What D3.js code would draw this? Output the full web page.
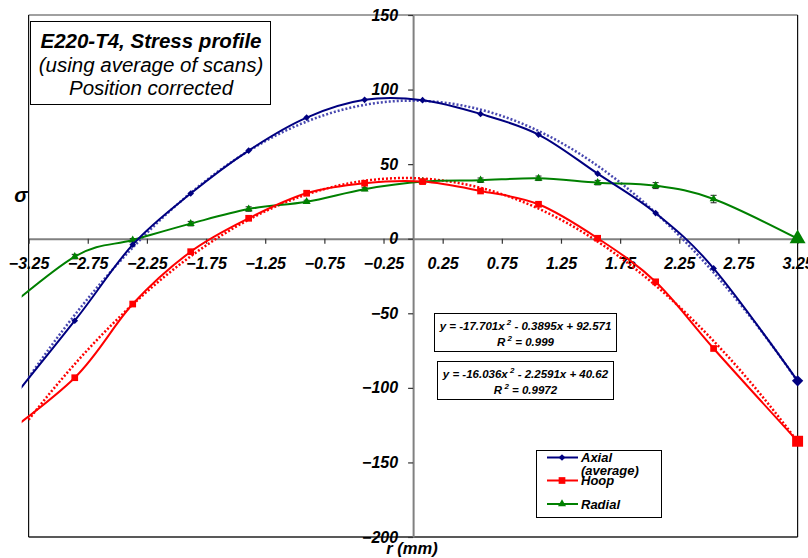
<!DOCTYPE html>
<html>
<head>
<meta charset="utf-8">
<script src="https://cdn.jsdelivr.net/npm/d3@7"></script>
<style>
  body { margin: 0; background: #fff; }
  text { font-family: "Liberation Sans", Arial, sans-serif; }
</style>
</head>
<body>
<div id="chart"></div>
<script>
// Radial position (mm), first point lies left of the visible axis
var positions = [-3.6, -2.86, -2.37, -1.88, -1.39, -0.90, -0.41, 0.08, 0.57, 1.06, 1.56, 2.05, 2.54, 3.25];

// Stress values
var axial  = [-128, -55.0, -4.0, 30.3, 59.1, 81.2, 93.1, 92.9, 83.7, 69.8, 43.6, 17.2, -19.9, -95.3];
var hoop   = [-140, -93.2, -43.8, -8.7, 13.7, 30.5, 37.2, 38.3, 32.0, 23.1, 0.3, -28.9, -73.6, -135.8];
var radial = [-58, -12.0, -0.9, 10.1, 19.9, 24.8, 33.2, 38.3, 39.2, 40.5, 37.6, 35.6, 26.6, 0];
var radialErr = [0, 1.5, 1, 1.5, 1.5, 1, 1, 1, 1.5, 1.5, 1.5, 2, 2.5, 0];

// Polynomial trendlines (a, b, c for a x^2 + b x + c)
var axialFit = [-17.701, -0.3895, 92.571];
var hoopFit  = [-16.036, -2.2591, 40.62];

var xTicks = [-3.25, -2.75, -2.25, -1.75, -1.25, -0.75, -0.25, 0.25, 0.75, 1.25, 1.75, 2.25, 2.75, 3.25];
var yTicks = [-200, -150, -100, -50, 0, 50, 100, 150];

var width = 808, height = 558;

var svg = d3.select("#chart").append("svg")
  .attr("width", width)
  .attr("height", height);

var x = d3.scaleLinear().domain([-3.25, 3.25]).range([28.6, 797.6]);
var y = d3.scaleLinear().domain([-200, 150]).range([537, 15]);

// series are clipped a few pixels left of the frame, as in the original
svg.append("clipPath").attr("id", "plotclip")
  .append("rect").attr("x", 21.7).attr("y", 0).attr("width", width).attr("height", height);

// plot area frame
svg.append("line").attr("x1", x(-3.25)).attr("x2", x(3.25)).attr("y1", y(150)).attr("y2", y(150))
  .attr("stroke", "#808080").attr("stroke-width", 1.5);
svg.append("line").attr("x1", x(-3.25)).attr("x2", x(3.25)).attr("y1", y(-200)).attr("y2", y(-200))
  .attr("stroke", "#222").attr("stroke-width", 1.5);
svg.append("line").attr("x1", x(-3.25)).attr("x2", x(-3.25)).attr("y1", y(150)).attr("y2", y(-200))
  .attr("stroke", "#111").attr("stroke-width", 1.2);
svg.append("line").attr("x1", x(3.25)).attr("x2", x(3.25)).attr("y1", y(150)).attr("y2", y(-200))
  .attr("stroke", "#111").attr("stroke-width", 1.2);

// x axis through zero
var xAxis = svg.append("g")
  .attr("transform", "translate(0," + y(0) + ")")
  .call(d3.axisBottom(x).tickValues(xTicks).tickSizeInner(5).tickSizeOuter(0).tickFormat(d3.format(".2f")));
xAxis.select(".domain").attr("stroke", "#808080").attr("stroke-width", 2);
xAxis.selectAll(".tick line").attr("stroke", "#333").attr("stroke-width", 1.2);
xAxis.selectAll("text")
  .attr("y", 25).attr("dy", "0.35em")
  .style("font-size", "16px").style("font-weight", "bold").style("font-style", "italic").attr("fill", "#000");

// y axis through zero
var yAxis = svg.append("g")
  .attr("transform", "translate(" + x(0) + ",0)")
  .call(d3.axisLeft(y).tickValues(yTicks).tickSizeInner(5).tickSizeOuter(0).tickPadding(10));
yAxis.select(".domain").attr("stroke", "#808080").attr("stroke-width", 2);
yAxis.selectAll(".tick line").attr("stroke", "#333").attr("stroke-width", 1.2);
yAxis.selectAll("text")
  .style("font-size", "16px").style("font-weight", "bold").style("font-style", "italic").attr("fill", "#000");

// axis titles
svg.append("text").attr("x", 21).attr("y", 195).attr("text-anchor", "middle").attr("dy", "0.35em")
  .style("font-size", "20px").style("font-weight", "bold").style("font-style", "italic").text("σ");
svg.append("text").attr("x", 412).attr("y", 553.5).attr("text-anchor", "middle")
  .style("font-size", "16.5px").style("font-weight", "bold").style("font-style", "italic").text("r (mm)");

// trendlines
function fitPoints(c) {
  return d3.range(-3.25, 3.2501, 0.05).map(function(r) {
    return [r, c[0] * r * r + c[1] * r + c[2]];
  });
}
var fitLine = d3.line().x(function(d) { return x(d[0]); }).y(function(d) { return y(d[1]); });

svg.append("path").attr("d", fitLine(fitPoints(axialFit)))
  .attr("fill", "none").attr("stroke", "#4848b0").attr("stroke-width", 2.5).attr("stroke-dasharray", "2,2");
svg.append("path").attr("d", fitLine(fitPoints(hoopFit)))
  .attr("fill", "none").attr("stroke", "#ff0000").attr("stroke-width", 2.5).attr("stroke-dasharray", "2,2");

// smoothed series
var line = d3.line()
  .x(function(d, i) { return x(positions[i]); })
  .y(function(d) { return y(d); })
  .curve(d3.curveCardinal.tension(0));

var series = [
  { name: "radial", values: radial, color: "#008000", shape: "tri" },
  { name: "hoop", values: hoop, color: "#ff0000", shape: "sq" },
  { name: "axial", values: axial, color: "#000080", shape: "dia" }
];

// error bars on radial
var eb = svg.append("g");
radial.forEach(function(v, i) {
  var e = radialErr[i];
  if (!e) return;
  var cx = x(positions[i]);
  eb.append("line").attr("x1", cx).attr("x2", cx).attr("y1", y(v - e)).attr("y2", y(v + e)).attr("stroke", "#222");
  eb.append("line").attr("x1", cx - 3).attr("x2", cx + 3).attr("y1", y(v - e)).attr("y2", y(v - e)).attr("stroke", "#222");
  eb.append("line").attr("x1", cx - 3).attr("x2", cx + 3).attr("y1", y(v + e)).attr("y2", y(v + e)).attr("stroke", "#222");
});

function marker(shape, big) {
  if (shape === "sq") return d3.symbol(d3.symbolSquare, big ? 120 : 45)();
  if (shape === "tri") return d3.symbol(d3.symbolTriangle, big ? 110 : 28)();
  return d3.symbol(d3.symbolSquare, big ? 64 : 22)();
}

series.forEach(function(s) {
  svg.append("path").attr("d", line(s.values))
    .attr("clip-path", "url(#plotclip)")
    .attr("fill", "none").attr("stroke", s.color).attr("stroke-width", 2);
  var last = s.values.length - 1;
  svg.selectAll(null).data(s.values).enter().append("path")
    .filter(function(d, i) { return i > 0; })
    .attr("d", function(d, i) { return marker(s.shape, i + 1 === last); })
    .attr("transform", function(d, i) {
      var t = "translate(" + x(positions[i + 1]) + "," + y(d) + ")";
      return s.shape === "dia" ? t + " rotate(45)" : t;
    })
    .attr("fill", s.color);
});

// title box
svg.append("rect").attr("x", 30.5).attr("y", 21.5).attr("width", 240).attr("height", 83)
  .attr("fill", "#fff").attr("stroke", "#000");
var titleLines = [
  { t: "E220-T4, Stress profile", y: 48, w: "bold", s: 20.5 },
  { t: "(using average of scans)", y: 72, w: "normal", s: 20.5 },
  { t: "Position corrected", y: 95, w: "normal", s: 20.5 }
];
titleLines.forEach(function(l) {
  svg.append("text").attr("x", 151).attr("y", l.y).attr("text-anchor", "middle")
    .style("font-size", l.s + "px").style("font-style", "italic").style("font-weight", l.w).text(l.t);
});

// equation boxes
function eqBox(bx, by, bw, bh, c, r2) {
  svg.append("rect").attr("x", bx).attr("y", by).attr("width", bw).attr("height", bh)
    .attr("fill", "#fff").attr("stroke", "#000");
  var t1 = svg.append("text").attr("x", bx + bw / 2).attr("y", by + 16).attr("text-anchor", "middle")
    .style("font-size", "11.5px").style("font-weight", "bold").style("font-style", "italic");
  t1.append("tspan").text("y = " + c[0] + "x");
  t1.append("tspan").attr("dy", -5).style("font-size", "8px").text(" 2");
  t1.append("tspan").attr("dy", 5).text(" - " + Math.abs(c[1]) + "x + " + c[2]);
  var t2 = svg.append("text").attr("x", bx + bw / 2).attr("y", by + 32).attr("text-anchor", "middle")
    .style("font-size", "11.5px").style("font-weight", "bold").style("font-style", "italic");
  t2.append("tspan").text("R");
  t2.append("tspan").attr("dy", -5).style("font-size", "8px").text(" 2");
  t2.append("tspan").attr("dy", 5).text(" = " + r2);
}
eqBox(434.5, 313.5, 182, 38, axialFit, "0.999");
eqBox(437.5, 361.5, 176, 38, hoopFit, "0.9972");

// legend
svg.append("rect").attr("x", 536.5).attr("y", 450.5).attr("width", 125).attr("height", 67)
  .attr("fill", "#fff").attr("stroke", "#000");
var legendItems = [
  { label: ["Axial", "(average)"], color: "#000080", shape: "dia", y: 457.5 },
  { label: ["Hoop"], color: "#ff0000", shape: "sq", y: 480.5 },
  { label: ["Radial"], color: "#008000", shape: "tri", y: 504 }
];
legendItems.forEach(function(it) {
  svg.append("line").attr("x1", 547).attr("x2", 578).attr("y1", it.y).attr("y2", it.y)
    .attr("stroke", it.color).attr("stroke-width", 2);
  svg.append("path").attr("d", marker(it.shape, false))
    .attr("transform", "translate(562," + it.y + ")" + (it.shape === "dia" ? " rotate(45)" : ""))
    .attr("fill", it.color);
  it.label.forEach(function(l, k) {
    svg.append("text").attr("x", 581).attr("y", it.y + k * 12.5).attr("dy", "0.35em")
      .style("font-size", "13px").style("font-weight", "bold").style("font-style", "italic").text(l);
  });
});
</script>
</body>
</html>
